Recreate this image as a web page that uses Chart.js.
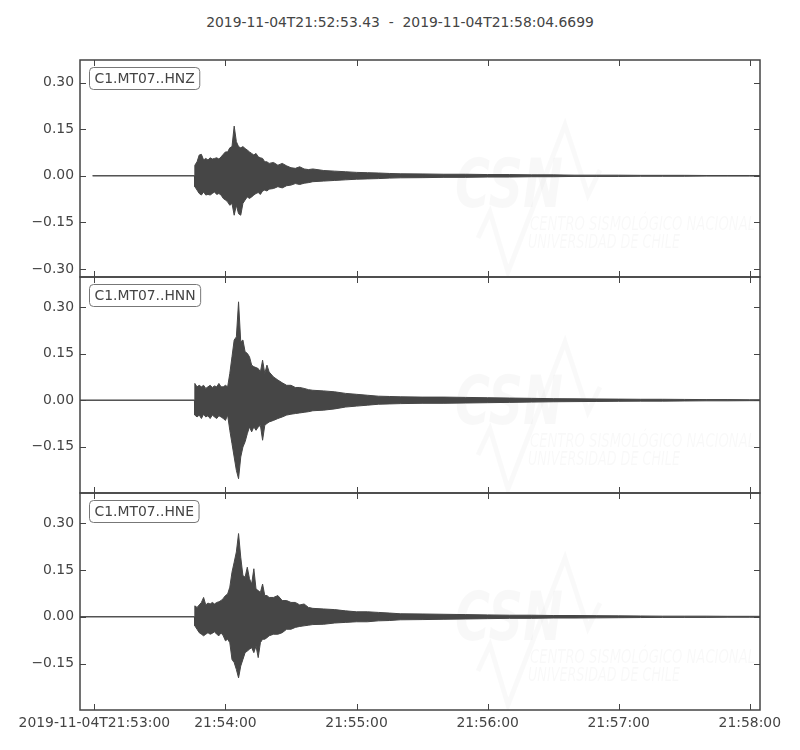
<!DOCTYPE html>
<html>
<head>
<meta charset="utf-8">
<script src="https://cdn.jsdelivr.net/npm/chart.js@4.4.0/dist/chart.umd.min.js"></script>
<style>
  body { margin: 0; background: #fff; width: 800px; height: 750px; position: relative; overflow: hidden; font-family: "DejaVu Sans", sans-serif; }
  .title { position: absolute; left: 0; top: 14px; width: 800px; text-align: center; font-size: 13.9px; color: #444; white-space: pre; }
  .panel { position: absolute; left: 0; width: 800px; }
</style>
</head>
<body>
<div class="title">2019-11-04T21:52:53.43  -  2019-11-04T21:58:04.6699</div>
<div class="panel" style="top:44px"><canvas id="c0" width="800" height="249"></canvas></div>
<div class="panel" style="top:261px"><canvas id="c1" width="800" height="248"></canvas></div>
<div class="panel" style="top:477px"><canvas id="c2" width="800" height="273"></canvas></div>
<script>
// seconds after 2019-11-04T21:53:00
const xMin = -6.57
const xMax = 304.67
const xTicks = [0, 60, 120, 180, 240, 300]
const xTickLabels = ['2019-11-04T21:53:00', '21:54:00', '21:55:00', '21:56:00', '21:57:00', '21:58:00']
const yTicks = [-0.30, -0.15, 0, 0.15, 0.30]

const channels = ['C1.MT07..HNZ', 'C1.MT07..HNN', 'C1.MT07..HNE']
const traceStart = [-0.8, -6.57, -6.57]
const yMin = [-0.326, -0.299, -0.299]
const yMax = [0.373, 0.397, 0.397]

// envelope sample times (s)
const times = [45.8,
  46, 47, 48, 49, 50, 51, 52, 53, 54, 55, 56, 57, 58, 59, 60, 61, 62, 63, 64, 65,
  66, 67, 68, 69, 70, 71, 72, 73, 74, 75, 76, 77, 78, 79, 80,
  82, 84, 86, 88, 90, 92, 94, 96, 98, 100,
  105, 110, 115, 120, 125, 130, 135, 140,
  150, 160, 170, 180, 190, 200, 210, 220, 230, 240, 250, 260, 270, 280, 290, 300,
  304.67]

const hnzUpper = [0,
  0.034, 0.045, 0.067, 0.069, 0.051, 0.056, 0.051, 0.058, 0.054, 0.056,
  0.058, 0.054, 0.061, 0.069, 0.077, 0.077, 0.090, 0.094, 0.160, 0.110,
  0.094, 0.090, 0.094, 0.088, 0.083, 0.077, 0.072, 0.067, 0.072, 0.061,
  0.058, 0.056, 0.045, 0.045, 0.040,
  0.043, 0.034, 0.040, 0.032, 0.026, 0.024, 0.029, 0.022, 0.020, 0.022,
  0.017, 0.015, 0.013, 0.011, 0.010, 0.009, 0.0075, 0.0065,
  0.006, 0.005, 0.005, 0.004, 0.004, 0.003, 0.003, 0.002, 0.002, 0.002, 0.0015, 0.0015, 0.0015, 0.001, 0.001, 0.001,
  0.001]
const hnzLower = [0,
  -0.035, -0.046, -0.057, -0.062, -0.052, -0.062, -0.060, -0.062, -0.057, -0.052,
  -0.060, -0.057, -0.062, -0.073, -0.078, -0.084, -0.095, -0.089, -0.127, -0.095,
  -0.122, -0.127, -0.089, -0.078, -0.068, -0.073, -0.068, -0.062, -0.057, -0.054,
  -0.060, -0.049, -0.046, -0.049, -0.043,
  -0.041, -0.035, -0.039, -0.032, -0.030, -0.025, -0.028, -0.024, -0.022, -0.019,
  -0.017, -0.015, -0.013, -0.011, -0.010, -0.009, -0.0075, -0.0065,
  -0.006, -0.005, -0.005, -0.004, -0.004, -0.003, -0.003, -0.002, -0.002, -0.002, -0.0015, -0.0015, -0.0015, -0.001, -0.001, -0.001,
  -0.001]

const hnnUpper = [0,
  0.054, 0.043, 0.048, 0.043, 0.048, 0.038, 0.043, 0.048, 0.041, 0.046,
  0.043, 0.054, 0.043, 0.043, 0.048, 0.043, 0.086, 0.140, 0.194, 0.204,
  0.317, 0.188, 0.194, 0.156, 0.151, 0.140, 0.113, 0.108, 0.105, 0.102,
  0.091, 0.129, 0.086, 0.113, 0.091,
  0.075, 0.065, 0.056, 0.048, 0.048, 0.041, 0.041, 0.038, 0.034, 0.032,
  0.030, 0.027, 0.022, 0.019, 0.016, 0.013, 0.012, 0.011,
  0.010, 0.010, 0.009, 0.008, 0.007, 0.006, 0.005, 0.0045, 0.004, 0.0035, 0.003, 0.003, 0.0025, 0.002, 0.002, 0.0015,
  0.0015]
const hnnLower = [0,
  -0.048, -0.054, -0.048, -0.059, -0.045, -0.054, -0.050, -0.059, -0.048, -0.054,
  -0.059, -0.050, -0.054, -0.059, -0.065, -0.048, -0.097, -0.140, -0.183, -0.226,
  -0.253, -0.183, -0.151, -0.134, -0.108, -0.086, -0.102, -0.086, -0.097, -0.086,
  -0.081, -0.129, -0.081, -0.075, -0.070,
  -0.065, -0.059, -0.054, -0.048, -0.045, -0.043, -0.041, -0.039, -0.037, -0.034,
  -0.032, -0.028, -0.022, -0.019, -0.016, -0.013, -0.012, -0.011,
  -0.010, -0.010, -0.009, -0.008, -0.007, -0.006, -0.005, -0.0045, -0.004, -0.0035, -0.003, -0.003, -0.0025, -0.002, -0.002, -0.0015,
  -0.0015]

const hneUpper = [0,
  0.035, 0.030, 0.038, 0.046, 0.062, 0.038, 0.044, 0.041, 0.046, 0.041,
  0.046, 0.048, 0.052, 0.059, 0.068, 0.073, 0.095, 0.143, 0.175, 0.208,
  0.267, 0.191, 0.132, 0.127, 0.159, 0.122, 0.105, 0.154, 0.089, 0.084,
  0.078, 0.105, 0.068, 0.068, 0.062,
  0.062, 0.068, 0.052, 0.052, 0.046, 0.046, 0.038, 0.041, 0.030, 0.027,
  0.025, 0.023, 0.019, 0.016, 0.016, 0.014, 0.012, 0.0097,
  0.009, 0.008, 0.007, 0.006, 0.005, 0.005, 0.004, 0.004, 0.0035, 0.003, 0.0025, 0.002, 0.002, 0.002, 0.0015, 0.0015,
  0.0015]
const hneLower = [0,
  -0.029, -0.040, -0.051, -0.056, -0.061, -0.056, -0.051, -0.056, -0.053, -0.048,
  -0.056, -0.061, -0.051, -0.061, -0.077, -0.072, -0.083, -0.137, -0.147, -0.169,
  -0.196, -0.158, -0.137, -0.115, -0.110, -0.104, -0.099, -0.115, -0.094, -0.131,
  -0.083, -0.072, -0.072, -0.067, -0.061,
  -0.056, -0.056, -0.051, -0.040, -0.040, -0.034, -0.031, -0.029, -0.027, -0.025,
  -0.024, -0.020, -0.018, -0.016, -0.016, -0.013, -0.012, -0.0097,
  -0.009, -0.008, -0.007, -0.006, -0.005, -0.005, -0.004, -0.004, -0.0035, -0.003, -0.0025, -0.002, -0.002, -0.002, -0.0015, -0.0015,
  -0.0015]

const uppers = [hnzUpper, hnnUpper, hneUpper]
const lowers = [hnzLower, hnnLower, hneLower]

const ink = '#464646'
const axisColor = '#444'
const font = '"DejaVu Sans", sans-serif'
const margin = 16

function fmtY(v) {
  return (v < 0 ? '\u2212' : '') + Math.abs(v).toFixed(2)
}

function drawLogo(ctx, a) {
  ctx.save()
  ctx.beginPath()
  ctx.rect(a.left, a.top, a.right - a.left, a.bottom - a.top)
  ctx.clip()
  // faint CSN watermark
  ctx.strokeStyle = 'rgba(0,0,0,0.022)'
  ctx.lineWidth = 5
  const wave = [[398, 178], [410, 152], [428, 212], [485, 65], [508, 135], [520, 110]]
  ctx.beginPath()
  wave.forEach((p, i) => i ? ctx.lineTo(a.left + p[0], a.top + p[1]) : ctx.moveTo(a.left + p[0], a.top + p[1]))
  ctx.stroke()
  ctx.fillStyle = 'rgba(0,0,0,0.026)'
  ctx.textAlign = 'left'
  ctx.textBaseline = 'alphabetic'
  ctx.font = 'italic bold 68px ' + font
  ctx.fillText('CSN', a.left + 375, a.top + 147, 108)
  ctx.font = 'italic 19px ' + font
  ctx.fillText('CENTRO SISMOLÓGICO NACIONAL', a.left + 450, a.top + 170, 225)
  ctx.fillText('UNIVERSIDAD DE CHILE', a.left + 448, a.top + 188, 152)
  ctx.restore()
}

const panelDecor = {
  id: 'panelDecor',
  beforeDatasetsDraw(chart) {
    drawLogo(chart.ctx, chart.chartArea)
  },
  afterDraw(chart) {
    const ctx = chart.ctx
    const a = chart.chartArea
    const xs = chart.scales.x
    const ys = chart.scales.y
    ctx.save()
    ctx.strokeStyle = axisColor
    ctx.lineWidth = 1
    // inward ticks on all four sides
    ctx.beginPath()
    xTicks.forEach(v => {
      const px = Math.round(xs.getPixelForValue(v)) + 0.5
      ctx.moveTo(px, a.top); ctx.lineTo(px, a.top + 6)
      ctx.moveTo(px, a.bottom); ctx.lineTo(px, a.bottom - 6)
    })
    yTicks.filter(v => v >= ys.min && v <= ys.max).forEach(v => {
      const py = Math.round(ys.getPixelForValue(v)) + 0.5
      ctx.moveTo(a.left, py); ctx.lineTo(a.left + 6, py)
      ctx.moveTo(a.right, py); ctx.lineTo(a.right - 6, py)
    })
    ctx.stroke()
    // frame
    ctx.lineWidth = 1.5
    ctx.strokeRect(a.left, a.top, a.right - a.left, a.bottom - a.top)
    // channel label box
    const name = chart.options.plugins.panelDecor.label
    ctx.font = '13.9px ' + font
    const w = ctx.measureText(name).width + 10
    ctx.beginPath()
    ctx.roundRect(a.left + 9.5, a.top + 7.5, w, 22, 4)
    ctx.fillStyle = '#fff'
    ctx.fill()
    ctx.strokeStyle = '#777'
    ctx.lineWidth = 1
    ctx.stroke()
    ctx.fillStyle = axisColor
    ctx.textAlign = 'left'
    ctx.textBaseline = 'middle'
    ctx.fillText(name, a.left + 14.5, a.top + 19)
    ctx.restore()
  }
}

function makePanel(i) {
  const last = i === 2
  const upperPts = [{ x: traceStart[i], y: 0 }].concat(times.map((t, j) => ({ x: t, y: uppers[i][j] })))
  const lowerPts = [{ x: traceStart[i], y: 0 }].concat(times.map((t, j) => ({ x: t, y: lowers[i][j] })))
  new Chart(document.getElementById('c' + i), {
    type: 'line',
    data: {
      datasets: [
        { data: upperPts, borderColor: ink, backgroundColor: ink, borderWidth: 1, pointRadius: 0, fill: '+1' },
        { data: lowerPts, borderColor: ink, backgroundColor: ink, borderWidth: 1, pointRadius: 0, fill: false }
      ]
    },
    options: {
      responsive: false,
      animation: false,
      layout: { padding: { top: margin, bottom: last ? 0 : margin, left: 0, right: 40 } },
      plugins: {
        legend: { display: false },
        tooltip: { enabled: false },
        panelDecor: { label: channels[i] }
      },
      scales: {
        x: {
          type: 'linear',
          min: xMin,
          max: xMax,
          display: last,
          border: { display: false },
          grid: { display: false, drawTicks: false },
          afterBuildTicks: s => { s.ticks = xTicks.map(v => ({ value: v })) },
          afterFit: s => { s.height = last ? 40 : 0 },
          ticks: {
            color: axisColor,
            padding: 5,
            maxRotation: 0,
            autoSkip: false,
            font: { family: 'DejaVu Sans', size: 13.9 },
            callback: (v, k) => xTickLabels[k]
          }
        },
        y: {
          min: yMin[i],
          max: yMax[i],
          border: { display: false },
          grid: { display: false, drawTicks: false },
          afterBuildTicks: s => { s.ticks = yTicks.filter(v => v >= yMin[i] && v <= yMax[i]).map(v => ({ value: v })) },
          afterFit: s => { s.width = 80 },
          ticks: {
            color: axisColor,
            padding: 6,
            font: { family: 'DejaVu Sans', size: 13.9 },
            callback: v => fmtY(v)
          }
        }
      }
    },
    plugins: [panelDecor]
  })
}

makePanel(0)
makePanel(1)
makePanel(2)
</script>
</body>
</html>
